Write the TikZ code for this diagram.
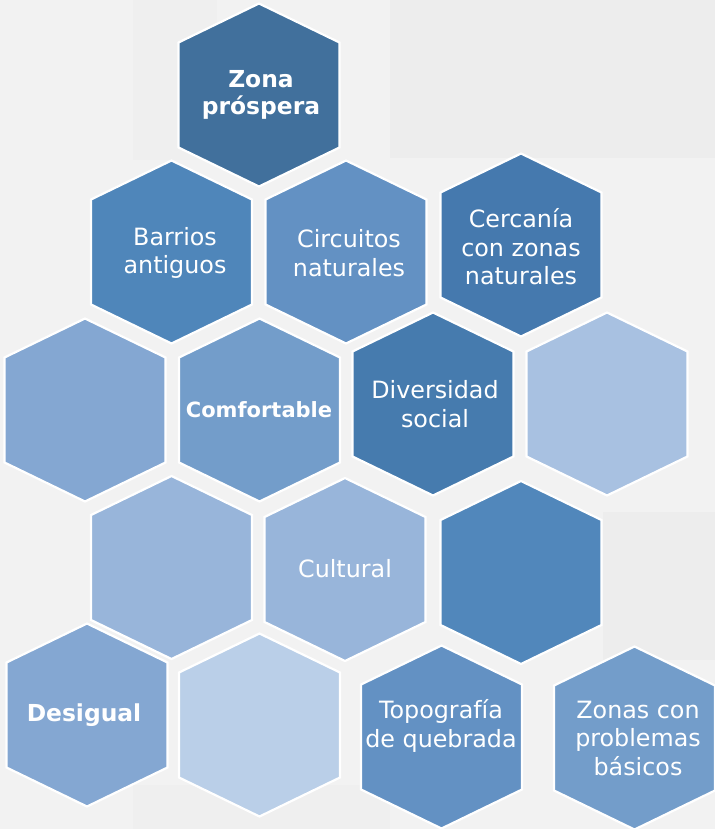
\documentclass[tikz,border=0pt]{standalone}
\usepackage{fontspec}
\setmainfont{DejaVu Sans}
\definecolor{bgmain}{HTML}{F2F2F2}
\definecolor{bgpatch}{HTML}{EDEDED}
\definecolor{hA}{HTML}{41709C}
\definecolor{hB}{HTML}{4F86BA}
\definecolor{hC}{HTML}{6391C3}
\definecolor{hD}{HTML}{4579AE}
\definecolor{hE}{HTML}{84A7D2}
\definecolor{hF}{HTML}{739DCA}
\definecolor{hG}{HTML}{467BAE}
\definecolor{hH}{HTML}{A8C1E1}
\definecolor{hI}{HTML}{98B5DA}
\definecolor{hJ}{HTML}{5187BB}
\definecolor{hK}{HTML}{BACFE8}
\tikzset{
  hexa/.style={draw=white, line width=2.2pt, line join=miter},
  lbl/.style={text=white, align=center, inner sep=0pt, font=\fontsize{23.8}{28.5}\selectfont},
  lblb/.style={lbl, font=\bfseries\fontsize{23.4}{27.5}\selectfont},
}
\newcommand\hexagono[3]{\filldraw[hexa, fill=#3] (#1,#2) ++(0,-91.5) -- ++(80.5,39) -- ++(0,105) -- ++(-80.5,39) -- ++(-80.5,-39) -- ++(0,-105) -- cycle;}
\begin{document}
\begin{tikzpicture}[x=1pt, y=-1pt]
\useasboundingbox (0,0) rectangle (715,829);
\fill[bgmain] (0,0) rectangle (715,829);
\fill[bgpatch] (390,0) rectangle (715,158);
\fill[bgpatch!50!bgmain] (133,0) rectangle (217,160);
\fill[bgpatch] (603,512) rectangle (715,660);
\fill[bgpatch!50!bgmain] (133,785) rectangle (390,829);
% hexagons
\hexagono{259}{95}{hA}
\hexagono{171.5}{252}{hB}
\hexagono{346}{252}{hC}
\hexagono{521}{245}{hD}
\hexagono{85}{410}{hE}
\hexagono{259.5}{410}{hF}
\hexagono{433}{404}{hG}
\hexagono{607}{404}{hH}
\hexagono{171.5}{567.5}{hI}
\hexagono{345}{569.5}{hI}
\hexagono{521}{572.5}{hJ}
\hexagono{87}{715}{hE}
\hexagono{259.5}{725}{hK}
\hexagono{441.5}{737}{hC}
\hexagono{634.5}{738}{hF}
% labels
\node[lblb] (t1) at (261,95) {Zona\\próspera};
\node[lbl] (t2) at (175,253) {Barrios\\antiguos};
\node[lbl] (t3) at (349,253) {Circuitos\\naturales};
\node[lbl] (t4) at (521,247) {Cercanía\\con zonas\\naturales};
\node[lblb, font=\bfseries\fontsize{21}{25}\selectfont] (t6) at (259,410) {Comfortable};
\node[lbl] (t7) at (435,404) {Diversidad\\social};
\node[lbl] (t10) at (345,569) {Cultural};
\node[lblb] (t12) at (84,715) {Desigual};
\node[lbl] (t14) at (441,726) {Topografía\\de quebrada};
\node[lbl] (t15) at (638,738) {Zonas con\\problemas\\básicos};
\end{tikzpicture}
\end{document}
